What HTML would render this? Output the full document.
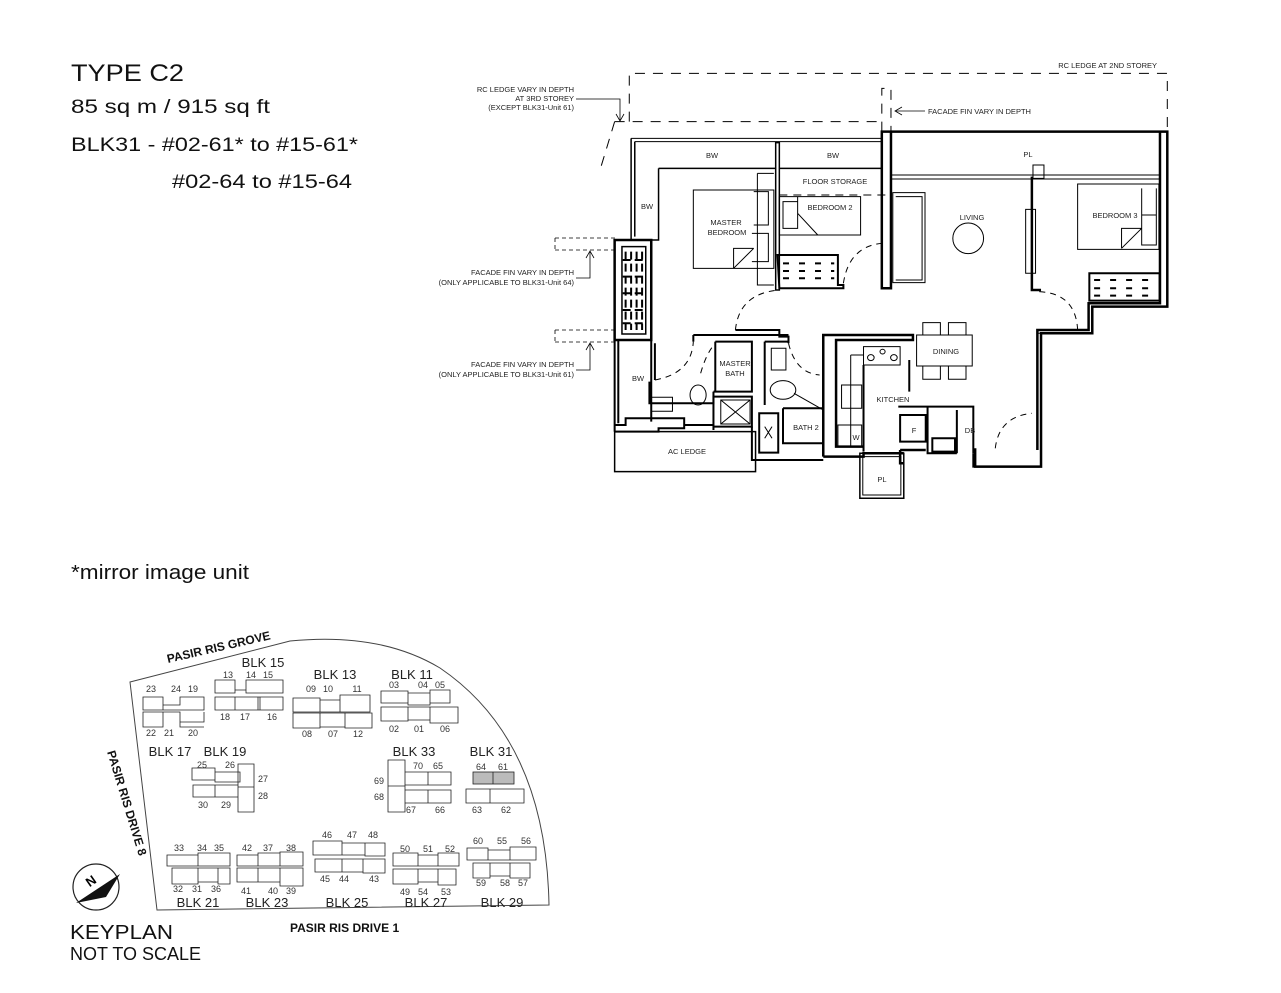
<!DOCTYPE html>
<html><head><meta charset="utf-8"><style>
html,body{margin:0;padding:0;background:#fff;}
svg{display:block;}
.h{font-family:"Liberation Sans",sans-serif;fill:#111;}
.s{font-family:"Liberation Sans",sans-serif;font-size:7.5px;fill:#222;}
.r{font-family:"Liberation Sans",sans-serif;font-size:7.5px;fill:#222;text-anchor:middle;}
.k{font-family:"Liberation Sans",sans-serif;font-size:9px;fill:#333;text-anchor:middle;}
.b{font-family:"Liberation Sans",sans-serif;font-size:13px;fill:#222;text-anchor:middle;}
.rd{font-family:"Liberation Sans",sans-serif;font-size:12px;font-weight:bold;fill:#111;}
</style></head><body>
<svg width="1281" height="993" viewBox="0 0 1281 993" xmlns="http://www.w3.org/2000/svg">
<rect width="1281" height="993" fill="#fff"/>
<text class="h" x="71" y="81" font-size="24" textLength="113" lengthAdjust="spacingAndGlyphs">TYPE C2</text>
<text class="h" x="71" y="113" font-size="19" textLength="199" lengthAdjust="spacingAndGlyphs">85 sq m / 915 sq ft</text>
<text class="h" x="71" y="151" font-size="19" textLength="287" lengthAdjust="spacingAndGlyphs">BLK31  -  #02-61* to #15-61*</text>
<text class="h" x="172" y="188" font-size="19" textLength="180" lengthAdjust="spacingAndGlyphs">#02-64  to #15-64</text>
<text class="h" x="71" y="579" font-size="20" textLength="178" lengthAdjust="spacingAndGlyphs">*mirror image unit</text>
<text class="h" x="70" y="939" font-size="20" textLength="103" lengthAdjust="spacingAndGlyphs">KEYPLAN</text>
<text class="h" x="70" y="960" font-size="18" textLength="131" lengthAdjust="spacingAndGlyphs">NOT TO SCALE</text>

<text class="s" x="1157" y="68" text-anchor="end">RC LEDGE AT 2ND STOREY</text>
<text class="s" x="574" y="92" text-anchor="end">RC LEDGE VARY IN DEPTH</text>
<text class="s" x="574" y="101" text-anchor="end">AT 3RD STOREY</text>
<text class="s" x="574" y="110" text-anchor="end">(EXCEPT BLK31-Unit 61)</text>
<text class="s" x="928" y="114">FACADE FIN VARY IN DEPTH</text>
<text class="s" x="574" y="275" text-anchor="end">FACADE FIN VARY IN DEPTH</text>
<text class="s" x="574" y="285" text-anchor="end">(ONLY APPLICABLE TO BLK31-Unit 64)</text>
<text class="s" x="574" y="367" text-anchor="end">FACADE FIN VARY IN DEPTH</text>
<text class="s" x="574" y="377" text-anchor="end">(ONLY APPLICABLE TO BLK31-Unit 61)</text>
<g stroke="#000" fill="none" stroke-width="0.8">
<path d="M576,99 H620 V120"/><path d="M616,114 L620,121 L624,114"/>
<path d="M576,278 H590 V252"/><path d="M586,258 L590,251 L594,258"/>
<path d="M576,370 H590 V344"/><path d="M586,350 L590,343 L594,350"/>
<path d="M925,111 H896"/><path d="M902,107 L895,111 L902,115"/>
<path d="M555,238 H615 M555,250 H615 M555,330 H615 M555,342 H615 M555,238 V250 M555,330 V342" stroke-dasharray="4,3"/>
</g>

<g transform="translate(600,60) scale(0.366,0.3333)" fill="none" stroke="#000">
<path d="M80,185 V40 H1550 V215 M40,185 H770 M770,215 V85 H795 V215 M40,185 L0,330" stroke-dasharray="10,8" stroke-width="1" vector-effect="non-scaling-stroke"/>
<path d="M85,235 H770 M95,245 H770 M795,345 H1530 M795,357 H1530" stroke-width="1" vector-effect="non-scaling-stroke"/>
<path d="M770,215 H795 V685 H770 Z M795,215 H1550 V740 H1345 V820 H1205 V1220 H1025 V1165 M1530,215 V730 H1335 V810 H1195 V1170 M1180,350 V690 H1205" stroke-width="2.5" vector-effect="non-scaling-stroke"/>
<path d="M85,235 V540 M95,245 V530 M160,325 H480 M160,325 V540 H40 M480,248 V690 H490 V248 Z M490,325 H770" stroke-width="1.5" vector-effect="non-scaling-stroke"/>
<path d="M490,405 H780" stroke-dasharray="8,6" stroke-width="1" vector-effect="non-scaling-stroke"/>
<rect x="40" y="540" width="100" height="300" stroke-width="2.5" vector-effect="non-scaling-stroke"/>
<rect x="60" y="560" width="65" height="262" stroke-width="1.5" vector-effect="non-scaling-stroke"/>
<path d="M70,575 V810 M85,575 V810 M100,575 V810 M115,575 V810 M62,600 H123 M62,650 H123 M62,700 H123 M62,750 H123 M62,790 H123" stroke-width="2" stroke-dasharray="8,4" vector-effect="non-scaling-stroke"/>
<rect x="255" y="390" width="220" height="235" stroke-width="1" vector-effect="non-scaling-stroke"/>
<path d="M430,340 H475 M430,340 V675 H475 M420,395 H460 V495 H420 M415,520 H460 V605 H415 M365,625 V565 H420 M365,625 L420,565" stroke-width="1" vector-effect="non-scaling-stroke"/>
<rect x="490" y="410" width="222" height="115" stroke-width="1" vector-effect="non-scaling-stroke"/>
<path d="M500,425 H540 V505 H500 Z M540,460 L595,525 M540,460 V410" stroke-width="1" vector-effect="non-scaling-stroke"/>
<path d="M485,585 H650 V675 H665 V685 H490 Z" stroke-width="2" vector-effect="non-scaling-stroke"/>
<path d="M500,610 H640 M500,633 H640 M500,655 H640" stroke-width="2" stroke-dasharray="6,10" vector-effect="non-scaling-stroke"/>
<path d="M800,398 H888 V668 H800 Z M808,410 H880 V660 H808" stroke-width="1" vector-effect="non-scaling-stroke"/>
<ellipse cx="1006" cy="535" rx="42" ry="46" stroke-width="1" vector-effect="non-scaling-stroke"/>
<rect x="1163" y="448" width="27" height="192" stroke-width="1" vector-effect="non-scaling-stroke"/>
<rect x="1183" y="315" width="30" height="40" stroke-width="1" vector-effect="non-scaling-stroke"/>
<rect x="1305" y="372" width="222" height="196" stroke-width="1" vector-effect="non-scaling-stroke"/>
<path d="M1480,385 V555 H1520 V385 M1480,465 H1520 M1425,565 V505 H1480 M1425,565 L1480,505" stroke-width="1" vector-effect="non-scaling-stroke"/>
<rect x="1337" y="640" width="192" height="82" stroke-width="2" vector-effect="non-scaling-stroke"/>
<path d="M1350,660 H1520 M1350,685 H1520 M1350,707 H1520" stroke-width="2" stroke-dasharray="6,10" vector-effect="non-scaling-stroke"/>
<path d="M370,810 Q380,700 490,690 M665,670 Q680,560 770,550 M1200,695 Q1300,700 1305,810 M150,960 Q250,940 255,845 M275,940 Q290,880 315,850 M515,850 Q535,940 600,945 M1080,1165 Q1090,1070 1180,1060" stroke-dasharray="6,5" stroke-width="1" vector-effect="non-scaling-stroke"/>
<path d="M370,810 H490 V820 M490,820 V830 H515 V845 M255,825 H515 M255,825 V845" stroke-width="2" vector-effect="non-scaling-stroke"/>
<path d="M1195,820 H1310 M1195,810 H1310" stroke-width="1" vector-effect="non-scaling-stroke"/>
<path d="M40,840 V1115 M50,840 V1090 M140,840 V1085 M150,850 V960 M135,965 V1030 H310 V995 M315,845 H415 V995 H310 M315,845 V995" stroke-width="2" vector-effect="non-scaling-stroke"/>
<path d="M40,1115 H160 V1105 H230 V1075 H70 V1095 H40 M230,1095 H310 V1110 M310,1010 H415 V1100 H310 Z" stroke-width="2" vector-effect="non-scaling-stroke"/>
<path d="M330,1020 H410 V1092 H330 Z M330,1020 L410,1092 M410,1020 L330,1092" stroke-width="1" vector-effect="non-scaling-stroke"/>
<rect x="140" y="1012" width="58" height="42" stroke-width="1" vector-effect="non-scaling-stroke"/>
<ellipse cx="268" cy="1005" rx="22" ry="30" stroke-width="1" vector-effect="non-scaling-stroke"/>
<rect x="40" y="1115" width="385" height="120" stroke-width="1.5" vector-effect="non-scaling-stroke"/>
<path d="M450,845 V1035 M415,1100 V1200 H610 M500,1045 H610 M500,1045 V1150 H610 M415,1200 V1185 M450,845 H515 V850" stroke-width="2" vector-effect="non-scaling-stroke"/>
<rect x="468" y="865" width="40" height="65" stroke-width="1" vector-effect="non-scaling-stroke"/>
<ellipse cx="500" cy="990" rx="35" ry="28" stroke-width="1" vector-effect="non-scaling-stroke"/>
<rect x="435" y="1060" width="52" height="118" stroke-width="2" vector-effect="non-scaling-stroke"/>
<path d="M450,1100 L470,1135 M470,1100 L450,1135 M530,1000 L610,1050" stroke-width="1" vector-effect="non-scaling-stroke"/>
<path d="M610,1190 V825 H855 V840 H645 V1160 H720 M610,1190 H720 V1180 H830 M820,1170 H890 M820,1170 V1210 H830" stroke-width="2.5" vector-effect="non-scaling-stroke"/>
<path d="M720,860 H820 V915 H720 Z M685,885 H720 M685,885 V1160 M660,975 H715 V1045 H660 Z M650,1095 H715 V1160 H650 Z" stroke-width="1" vector-effect="non-scaling-stroke"/>
<circle cx="740" cy="893" r="9" stroke-width="1" vector-effect="non-scaling-stroke"/>
<circle cx="772" cy="875" r="7" stroke-width="1" vector-effect="non-scaling-stroke"/>
<circle cx="803" cy="893" r="9" stroke-width="1" vector-effect="non-scaling-stroke"/>
<path d="M720,915 V1175 M845,900 V995" stroke-width="2" vector-effect="non-scaling-stroke"/>
<path d="M815,1040 H1020 V1180 M895,1040 V1180 H975 M975,1050 V1180 M820,1065 H890 V1145 H820 Z M908,1135 H970 V1175 H908 Z" stroke-width="2" vector-effect="non-scaling-stroke"/>
<rect x="710" y="1180" width="120" height="135" stroke-width="1.5" vector-effect="non-scaling-stroke"/>
<rect x="718" y="1190" width="104" height="115" stroke-width="1" vector-effect="non-scaling-stroke"/>
<path d="M1020,1180 V1220 H1200" stroke-width="2" vector-effect="non-scaling-stroke"/>
<rect x="865" y="825" width="152" height="93" stroke-width="1" vector-effect="non-scaling-stroke"/>
<path d="M882,825 V788 H930 V825 M952,825 V788 H1000 V825 M882,918 V958 H930 V918 M952,918 V958 H1000 V918" stroke-width="1" vector-effect="non-scaling-stroke"/>
</g>

<g>
<text class="r" x="712" y="158">BW</text><text class="r" x="833" y="158">BW</text>
<text class="r" x="1028" y="157">PL</text><text class="r" x="835" y="184">FLOOR STORAGE</text>
<text class="r" x="647" y="209">BW</text><text class="r" x="830" y="210">BEDROOM 2</text>
<text class="r" x="972" y="220">LIVING</text><text class="r" x="1115" y="218">BEDROOM 3</text>
<text class="r" x="726" y="225">MASTER</text><text class="r" x="727" y="235">BEDROOM</text>
<text class="r" x="946" y="354">DINING</text><text class="r" x="735" y="366">MASTER</text>
<text class="r" x="735" y="376">BATH</text><text class="r" x="638" y="381">BW</text>
<text class="r" x="893" y="402">KITCHEN</text><text class="r" x="914" y="433">F</text>
<text class="r" x="970" y="433">DB</text><text class="r" x="806" y="430">BATH 2</text>
<text class="r" x="856" y="440">W</text><text class="r" x="687" y="454">AC LEDGE</text>
<text class="r" x="882" y="482">PL</text>
</g>

<path d="M130,682 L290,641 Q380,632 440,668 Q546,740 549,905 L157,910 Z" fill="none" stroke="#444" stroke-width="1"/>
<text class="rd" transform="translate(168,663) rotate(-13)">PASIR RIS GROVE</text>
<text class="rd" transform="translate(107,752) rotate(73)">PASIR RIS DRIVE 8</text>
<text class="rd" x="290" y="932">PASIR RIS DRIVE 1</text>
<g stroke="#222" fill="#fff" stroke-width="0.8">
<path d="M143,697 H163 V710 H143 Z M163,705 H180 V697 H204 V710 H163 M143,712 H163 V727 H143 Z M163,712 H180 V722 H204 V712 M180,712 V727 H204"/>
<path d="M215,680 H235 V693 H215 Z M246,680 H283 V693 H246 Z M235,690 H246 V680 M215,697 H235 V710 H215 Z M235,697 H260 V710 H235 Z M258,697 H283 V710 H258 Z"/>
<path d="M293,698 H320 V712 H293 Z M320,700 H340 V712 H320 Z M340,695 H370 V712 H340 Z M293,713 H320 V728 H293 Z M320,713 H345 V727 H320 Z M345,713 H372 V728 H345 Z"/>
<path d="M381,691 H408 V703 H381 Z M408,693 H430 V705 H408 Z M430,690 H450 V703 H430 Z M381,707 H408 V721 H381 Z M408,707 H430 V720 H408 Z M430,707 H458 V723 H430 Z"/>
<path d="M192,768 H215 V780 H192 Z M215,772 H240 V782 H215 Z M193,785 H215 V797 H193 Z M215,785 H238 V797 H215 Z M238,764 H254 V812 H238 Z M238,787 H254"/>
<path d="M388,760 H405 V812 H388 Z M388,786 H405 M405,772 H428 V785 H405 Z M428,772 H451 V785 H428 Z M405,790 H428 V803 H405 Z M428,790 H451 V803 H428 Z"/>
<rect x="473" y="772" width="41" height="12" fill="#bbb"/>
<path d="M493,772 V784 M466,789 H490 V803 H466 Z M490,789 H524 V803 H490 Z"/>
<path d="M167,855 H198 V866 H167 Z M198,853 H230 V866 H198 Z M172,868 H198 V884 H172 Z M198,868 H218 V882 H198 Z M218,868 H230 V884 H218 Z"/>
<path d="M237,855 H258 V866 H237 Z M258,853 H280 V866 H258 Z M280,852 H303 V866 H280 Z M237,868 H258 V882 H237 Z M258,868 H280 V882 H258 Z M280,868 H303 V886 H280 Z"/>
<path d="M313,841 H342 V855 H313 Z M342,843 H365 V855 H342 Z M365,843 H385 V856 H365 Z M315,859 H342 V872 H315 Z M342,859 H363 V872 H342 Z M363,859 H385 V873 H363 Z"/>
<path d="M393,853 H418 V866 H393 Z M418,855 H438 V866 H418 Z M438,853 H459 V866 H438 Z M393,869 H418 V884 H393 Z M418,869 H438 V882 H418 Z M438,869 H456 V885 H438 Z"/>
<path d="M467,848 H488 V860 H467 Z M488,850 H510 V860 H488 Z M510,847 H536 V860 H510 Z M473,863 H490 V878 H473 Z M490,863 H510 V876 H490 Z M510,863 H530 V878 H510 Z"/>
</g>
<g>
<text class="b" x="263" y="667">BLK 15</text><text class="b" x="335" y="679">BLK 13</text>
<text class="b" x="412" y="679">BLK 11</text><text class="b" x="170" y="756">BLK 17</text>
<text class="b" x="225" y="756">BLK 19</text><text class="b" x="414" y="756">BLK 33</text>
<text class="b" x="491" y="756">BLK 31</text><text class="b" x="198" y="907">BLK 21</text>
<text class="b" x="267" y="907">BLK 23</text><text class="b" x="347" y="907">BLK 25</text>
<text class="b" x="426" y="907">BLK 27</text><text class="b" x="502" y="907">BLK 29</text>
</g>
<g>
<text class="k" x="151" y="692">23</text><text class="k" x="176" y="692">24</text><text class="k" x="193" y="692">19</text>
<text class="k" x="151" y="736">22</text><text class="k" x="169" y="736">21</text><text class="k" x="193" y="736">20</text>
<text class="k" x="228" y="678">13</text><text class="k" x="251" y="678">14</text><text class="k" x="268" y="678">15</text>
<text class="k" x="225" y="720">18</text><text class="k" x="245" y="720">17</text><text class="k" x="272" y="720">16</text>
<text class="k" x="311" y="692">09</text><text class="k" x="328" y="692">10</text><text class="k" x="357" y="692">11</text>
<text class="k" x="307" y="737">08</text><text class="k" x="333" y="737">07</text><text class="k" x="358" y="737">12</text>
<text class="k" x="394" y="688">03</text><text class="k" x="423" y="688">04</text><text class="k" x="440" y="688">05</text>
<text class="k" x="394" y="732">02</text><text class="k" x="419" y="732">01</text><text class="k" x="445" y="732">06</text>
<text class="k" x="202" y="768">25</text><text class="k" x="230" y="768">26</text><text class="k" x="263" y="782">27</text>
<text class="k" x="263" y="799">28</text><text class="k" x="203" y="808">30</text><text class="k" x="226" y="808">29</text>
<text class="k" x="418" y="769">70</text><text class="k" x="438" y="769">65</text><text class="k" x="379" y="784">69</text>
<text class="k" x="379" y="800">68</text><text class="k" x="411" y="813">67</text><text class="k" x="440" y="813">66</text>
<text class="k" x="481" y="770">64</text><text class="k" x="503" y="770">61</text><text class="k" x="477" y="813">63</text><text class="k" x="506" y="813">62</text>
<text class="k" x="179" y="851">33</text><text class="k" x="202" y="851">34</text><text class="k" x="219" y="851">35</text>
<text class="k" x="178" y="892">32</text><text class="k" x="197" y="892">31</text><text class="k" x="216" y="892">36</text>
<text class="k" x="247" y="851">42</text><text class="k" x="268" y="851">37</text><text class="k" x="291" y="851">38</text>
<text class="k" x="246" y="894">41</text><text class="k" x="273" y="894">40</text><text class="k" x="291" y="894">39</text>
<text class="k" x="327" y="838">46</text><text class="k" x="352" y="838">47</text><text class="k" x="373" y="838">48</text>
<text class="k" x="325" y="882">45</text><text class="k" x="344" y="882">44</text><text class="k" x="374" y="882">43</text>
<text class="k" x="405" y="852">50</text><text class="k" x="428" y="852">51</text><text class="k" x="450" y="852">52</text>
<text class="k" x="405" y="895">49</text><text class="k" x="423" y="895">54</text><text class="k" x="446" y="895">53</text>
<text class="k" x="478" y="844">60</text><text class="k" x="502" y="844">55</text><text class="k" x="526" y="844">56</text>
<text class="k" x="481" y="886">59</text><text class="k" x="505" y="886">58</text><text class="k" x="523" y="886">57</text>
</g>
<circle cx="96" cy="887" r="23" fill="#fff" stroke="#222" stroke-width="1.2"/>
<path d="M76,903 L120,874 L100,892 Z M76,903 L120,874 L106,897 Z" fill="#111"/>
<text x="86" y="886" font-family="Liberation Sans,sans-serif" font-size="13" font-weight="bold" transform="rotate(-35 90 881)">N</text>
</svg>
</body></html>
